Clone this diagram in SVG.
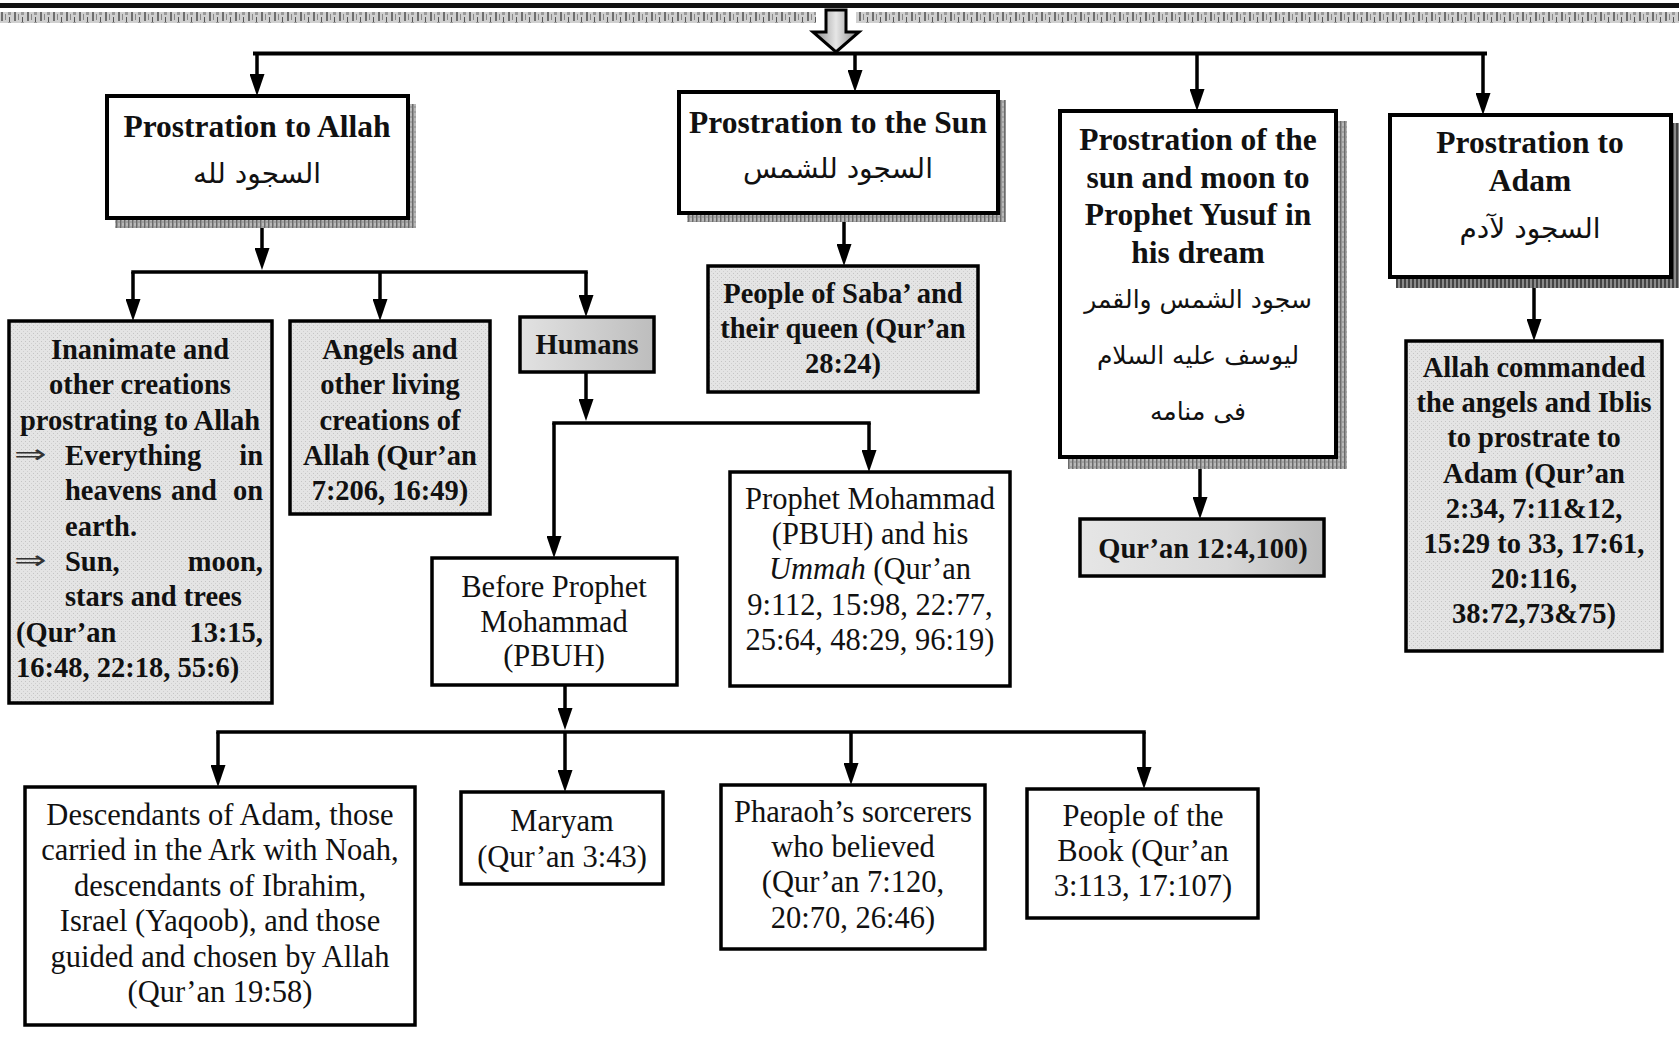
<svg xmlns="http://www.w3.org/2000/svg" width="1679" height="1037" viewBox="0 0 1679 1037">
<style>
.box{stroke:#000;stroke-width:3.5}
.top{stroke:#000;stroke-width:4;fill:#fff}
.wb{fill:#fff}
.h{font-family:"Liberation Serif","Times New Roman",serif;font-weight:bold;font-size:31.5px;text-anchor:middle;fill:#111}
.g{font-family:"Liberation Serif","Times New Roman",serif;font-weight:bold;font-size:28.5px;text-anchor:middle;fill:#111}
.w{font-family:"Liberation Serif","Times New Roman",serif;font-size:30.5px;text-anchor:middle;fill:#111}
.ar{font-family:"DejaVu Sans","Noto Sans",sans-serif;font-size:28px;text-anchor:middle;fill:#111}
.ar2{font-family:"DejaVu Sans","Noto Sans",sans-serif;font-size:25px;text-anchor:middle;fill:#111}
.st{text-anchor:start}
.en{text-anchor:end}
.arr{font-family:"DejaVu Sans",sans-serif;font-weight:normal;font-size:26px;text-anchor:start;fill:#333}
</style>
<defs>
<pattern id="dots" width="4" height="4" patternUnits="userSpaceOnUse"><rect width="4" height="4" fill="#e4e4e4"/><rect x="1" y="1" width="1" height="1" fill="#c4c4c4"/><rect x="3" y="3" width="1" height="1" fill="#cfcfcf"/></pattern>
<pattern id="hatch" width="4" height="5" patternUnits="userSpaceOnUse"><rect width="4" height="5" fill="#b8b8b8"/><rect width="1.5" height="5" fill="#6a6a6a"/><rect x="2.5" y="1" width="1" height="2" fill="#8a8a8a"/></pattern>
<pattern id="hatchd" width="4" height="5" patternUnits="userSpaceOnUse"><rect width="4" height="5" fill="#8a8a8a"/><rect width="2" height="5" fill="#444"/></pattern>
<pattern id="band" width="13" height="11" patternUnits="userSpaceOnUse"><rect width="13" height="11" fill="#cfcfcf"/><rect x="1" y="1" width="2" height="9" fill="#6e6e6e"/><rect x="5" y="3" width="1" height="6" fill="#888"/><rect x="8" y="0" width="3" height="4" fill="#9a9a9a"/><rect x="9" y="6" width="1" height="5" fill="#555"/></pattern>
<linearGradient id="gHum" x1="0" x2="1" y1="0" y2="0"><stop offset="0" stop-color="#e2e2e2"/><stop offset="1" stop-color="#bdbdbd"/></linearGradient>
<linearGradient id="gQ" x1="0" x2="1" y1="0" y2="0"><stop offset="0" stop-color="#e6e6e6"/><stop offset="0.6" stop-color="#d8d8d8"/><stop offset="1" stop-color="#bcbcbc"/></linearGradient>
<linearGradient id="gArrow" x1="0" x2="1" y1="0" y2="0"><stop offset="0" stop-color="#888"/><stop offset="0.5" stop-color="#e6e6e6"/><stop offset="1" stop-color="#888"/></linearGradient>
<marker id="ah" viewBox="0 0 22 15" refX="1" refY="7.5" markerWidth="22" markerHeight="15" markerUnits="userSpaceOnUse" orient="auto"><path d="M0 0 L22 7.5 L0 15 Z" fill="#000"/></marker>
</defs>
<rect width="1679" height="1037" fill="#fff"/>

<!-- top band -->
<g id="topband">
<rect x="0" y="3" width="1679" height="5" fill="#111"/>
<rect x="0" y="12" width="1679" height="11" fill="url(#band)"/>
<rect x="816" y="10" width="40" height="14" fill="#fff"/>
</g>

<g id="connectors" stroke="#000" stroke-width="3.5" fill="none">
<polygon points="826,10 846,10 846,32 859,32 836,52 813,32 826,32" fill="url(#gArrow)" stroke="#000" stroke-width="3"/>
<line x1="255" y1="53.5" x2="1485" y2="53.5" stroke-width="4" stroke-linecap="square"/>
<line x1="257" y1="53.5" x2="257" y2="75" marker-end="url(#ah)"/>
<line x1="855" y1="53.5" x2="855" y2="71" marker-end="url(#ah)"/>
<line x1="1197" y1="53.5" x2="1197" y2="90" marker-end="url(#ah)"/>
<line x1="1483" y1="53.5" x2="1483" y2="94" marker-end="url(#ah)"/>

<line x1="262" y1="218" x2="262" y2="249" marker-end="url(#ah)"/>
<line x1="133" y1="272" x2="586" y2="272" stroke-linecap="square"/>
<line x1="133" y1="272" x2="133" y2="300" marker-end="url(#ah)"/>
<line x1="380" y1="272" x2="380" y2="300" marker-end="url(#ah)"/>
<line x1="586" y1="272" x2="586" y2="296" marker-end="url(#ah)"/>

<line x1="844" y1="213" x2="844" y2="245" marker-end="url(#ah)"/>
<line x1="1200" y1="457" x2="1200" y2="498" marker-end="url(#ah)"/>
<line x1="1534" y1="277" x2="1534" y2="320" marker-end="url(#ah)"/>

<line x1="586" y1="372" x2="586" y2="400" marker-end="url(#ah)"/>
<line x1="554" y1="423" x2="869" y2="423" stroke-linecap="square"/>
<line x1="554" y1="423" x2="554" y2="537" marker-end="url(#ah)"/>
<line x1="869" y1="423" x2="869" y2="451" marker-end="url(#ah)"/>

<line x1="565" y1="685" x2="565" y2="709" marker-end="url(#ah)"/>
<line x1="218" y1="732" x2="1144" y2="732" stroke-linecap="square"/>
<line x1="218" y1="732" x2="218" y2="766" marker-end="url(#ah)"/>
<line x1="565" y1="732" x2="565" y2="771" marker-end="url(#ah)"/>
<line x1="851" y1="732" x2="851" y2="764" marker-end="url(#ah)"/>
<line x1="1144" y1="732" x2="1144" y2="768" marker-end="url(#ah)"/>
</g>

<g id="n-allah">
<rect x="115" y="104" width="301" height="124" fill="url(#hatch)"/>
<rect class="top" x="107" y="96" width="301" height="122"/>
<text class="h" x="257" y="137">Prostration to Allah</text>
<text class="ar" x="257" y="183">السجود لله</text>
</g>

<g id="n-sun">
<rect x="687" y="100" width="319" height="122" fill="url(#hatch)"/>
<rect class="top" x="679" y="92" width="319" height="121"/>
<text class="h" x="838" y="133">Prostration to the Sun</text>
<text class="ar" x="838" y="178">السجود للشمس</text>
</g>

<g id="n-yusuf">
<rect x="1068" y="121" width="279" height="348" fill="url(#hatch)"/>
<rect class="top" x="1060" y="111" width="276" height="346"/>
<text class="h" x="1198" y="150">Prostration of the</text>
<text class="h" x="1198" y="188">sun and moon to</text>
<text class="h" x="1198" y="225">Prophet Yusuf in</text>
<text class="h" x="1198" y="263">his dream</text>
<text class="ar2" x="1198" y="308">سجود الشمس والقمر</text>
<text class="ar2" x="1198" y="364">ليوسف عليه السلام</text>
<text class="ar2" x="1198" y="420">فى منامه</text>
</g>

<g id="n-adam">
<rect x="1396" y="123" width="283" height="165" fill="url(#hatchd)"/>
<rect class="top" x="1390" y="115" width="281" height="162"/>
<text class="h" x="1530" y="153">Prostration to</text>
<text class="h" x="1530" y="191">Adam</text>
<text class="ar" x="1530" y="238">السجود لآدم</text>
</g>

<g id="n-inanimate">
<rect class="box" x="9" y="321" width="263" height="382" fill="url(#dots)"/>
<text class="g" x="140" y="359">Inanimate and</text>
<text class="g" x="140" y="394">other creations</text>
<text class="g" x="140" y="430">prostrating to Allah</text>
<text class="arr" transform="translate(14,463) scale(1.5,1)">⇒</text>
<text class="g st" x="65" y="465">Everything</text>
<text class="g en" x="263" y="465">in</text>
<text class="g st" x="65" y="500">heavens</text>
<text class="g" x="194" y="500">and</text>
<text class="g en" x="263" y="500">on</text>
<text class="g st" x="65" y="536">earth.</text>
<text class="arr" transform="translate(14,569) scale(1.5,1)">⇒</text>
<text class="g st" x="65" y="571">Sun,</text>
<text class="g en" x="263" y="571">moon,</text>
<text class="g st" x="65" y="606">stars and trees</text>
<text class="g st" x="16" y="642">(Qur’an</text>
<text class="g en" x="263" y="642">13:15,</text>
<text class="g st" x="16" y="677">16:48, 22:18, 55:6)</text>
</g>

<g id="n-angels">
<rect class="box" x="290" y="321" width="200" height="193" fill="url(#dots)"/>
<text class="g" x="390" y="359">Angels and</text>
<text class="g" x="390" y="394">other living</text>
<text class="g" x="390" y="430">creations of</text>
<text class="g" x="390" y="465">Allah (Qur’an</text>
<text class="g" x="390" y="500">7:206, 16:49)</text>
</g>

<g id="n-humans">
<rect class="box" x="520" y="317" width="134" height="55" fill="url(#gHum)"/>
<text class="g" x="587" y="354">Humans</text>
</g>

<g id="n-saba">
<rect class="box" x="708" y="266" width="270" height="126" fill="url(#dots)"/>
<text class="g" x="843" y="303">People of Saba’ and</text>
<text class="g" x="843" y="338">their queen (Qur’an</text>
<text class="g" x="843" y="373">28:24)</text>
</g>

<g id="n-q12">
<rect class="box" x="1080" y="519" width="244" height="57" fill="url(#gQ)"/>
<text class="g" x="1203" y="558">Qur’an 12:4,100)</text>
</g>

<g id="n-iblis">
<rect class="box" x="1406" y="341" width="256" height="310" fill="url(#dots)"/>
<text class="g" x="1534" y="377">Allah commanded</text>
<text class="g" x="1534" y="412">the angels and Iblis</text>
<text class="g" x="1534" y="447">to prostrate to</text>
<text class="g" x="1534" y="483">Adam (Qur’an</text>
<text class="g" x="1534" y="518">2:34, 7:11&amp;12,</text>
<text class="g" x="1534" y="553">15:29 to 33, 17:61,</text>
<text class="g" x="1534" y="588">20:116,</text>
<text class="g" x="1534" y="623">38:72,73&amp;75)</text>
</g>

<g id="n-before">
<rect class="box wb" x="432" y="558" width="245" height="127"/>
<text class="w" x="554" y="597">Before Prophet</text>
<text class="w" x="554" y="632">Mohammad</text>
<text class="w" x="554" y="666">(PBUH)</text>
</g>

<g id="n-prophet">
<rect class="box wb" x="730" y="472" width="280" height="214"/>
<text class="w" x="870" y="509">Prophet Mohammad</text>
<text class="w" x="870" y="544">(PBUH) and his</text>
<text class="w" x="870" y="579"><tspan font-style="italic">Ummah</tspan> (Qur’an</text>
<text class="w" x="870" y="615">9:112, 15:98, 22:77,</text>
<text class="w" x="870" y="650">25:64, 48:29, 96:19)</text>
</g>

<g id="n-descendants">
<rect class="box wb" x="25" y="787" width="390" height="238"/>
<text class="w" x="220" y="825">Descendants of Adam, those</text>
<text class="w" x="220" y="860">carried in the Ark with Noah,</text>
<text class="w" x="220" y="896">descendants of Ibrahim,</text>
<text class="w" x="220" y="931">Israel (Yaqoob), and those</text>
<text class="w" x="220" y="967">guided and chosen by Allah</text>
<text class="w" x="220" y="1002">(Qur’an 19:58)</text>
</g>

<g id="n-maryam">
<rect class="box wb" x="461" y="792" width="202" height="92"/>
<text class="w" x="562" y="831">Maryam</text>
<text class="w" x="562" y="867">(Qur’an 3:43)</text>
</g>

<g id="n-pharaoh">
<rect class="box wb" x="721" y="785" width="264" height="164"/>
<text class="w" x="853" y="822">Pharaoh’s sorcerers</text>
<text class="w" x="853" y="857">who believed</text>
<text class="w" x="853" y="892">(Qur’an 7:120,</text>
<text class="w" x="853" y="928">20:70, 26:46)</text>
</g>

<g id="n-book">
<rect class="box wb" x="1027" y="789" width="231" height="129"/>
<text class="w" x="1143" y="826">People of the</text>
<text class="w" x="1143" y="861">Book (Qur’an</text>
<text class="w" x="1143" y="896">3:113, 17:107)</text>
</g>
</svg>
